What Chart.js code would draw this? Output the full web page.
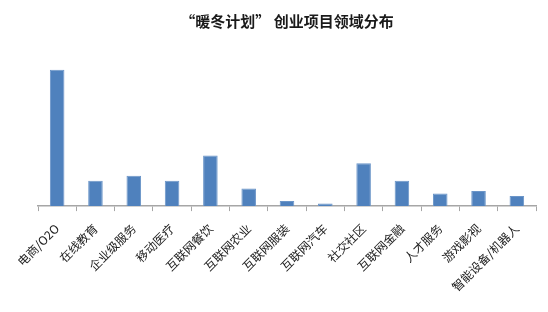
<!DOCTYPE html>
<html>
<head>
<meta charset="utf-8">
<script src="https://cdn.jsdelivr.net/npm/chart.js@4/dist/chart.umd.min.js"></script>
<style>
  html, body { margin: 0; padding: 0; background: #fff; }
  #wrap { width: 548px; height: 312px; }
</style>
</head>
<body>
<div id="wrap"><canvas id="myChart" width="548" height="312"></canvas></div>
<script>
var categories = ['电商/O2O', '在线教育', '企业级服务', '移动医疗', '互联网餐饮', '互联网农业', '互联网服装',
  '互联网汽车', '社交社区', '互联网金融', '人才服务', '游戏影视', '智能设备/机器人']
var projectCounts = [54, 10, 12, 10, 20, 7, 2, 1, 17, 10, 5, 6, 4]
var chartTitle = '“暖冬计划” 创业项目领域分布'

var ctx = document.getElementById('myChart').getContext('2d')
var myChart = new Chart(ctx, {
  type: 'bar',
  data: {
    labels: categories,
    datasets: [{
      label: '项目数',
      data: projectCounts,
      backgroundColor: '#4f81bd',
      borderColor: '#6b95c8',
      borderWidth: 1,
      barPercentage: 0.76,
      categoryPercentage: 0.5
    }]
  },
  options: {
    responsive: false,
    animation: false,
    layout: { padding: { top: 4, right: 12, left: 38, bottom: 8 } },
    plugins: {
      legend: { display: false },
      tooltip: { enabled: false },
      title: {
        display: true,
        text: chartTitle,
        color: '#1a1a1a',
        font: { family: 'Noto Sans CJK SC', size: 15, weight: 'bold' },
        padding: { top: 8, bottom: 22 }
      }
    },
    scales: {
      x: {
        grid: {
          offset: true,
          drawOnChartArea: false,
          drawTicks: true,
          tickLength: 5,
          color: '#a6a6a6'
        },
        border: { display: true, color: '#a6a6a6', width: 1.5 },
        ticks: {
          maxRotation: 45,
          minRotation: 45,
          autoSkip: false,
          color: '#222',
          padding: 10,
          font: { family: 'Noto Sans CJK SC', size: 12 }
        }
      },
      y: {
        display: false,
        min: 0,
        max: 61
      }
    }
  }
})
</script>
</body>
</html>
